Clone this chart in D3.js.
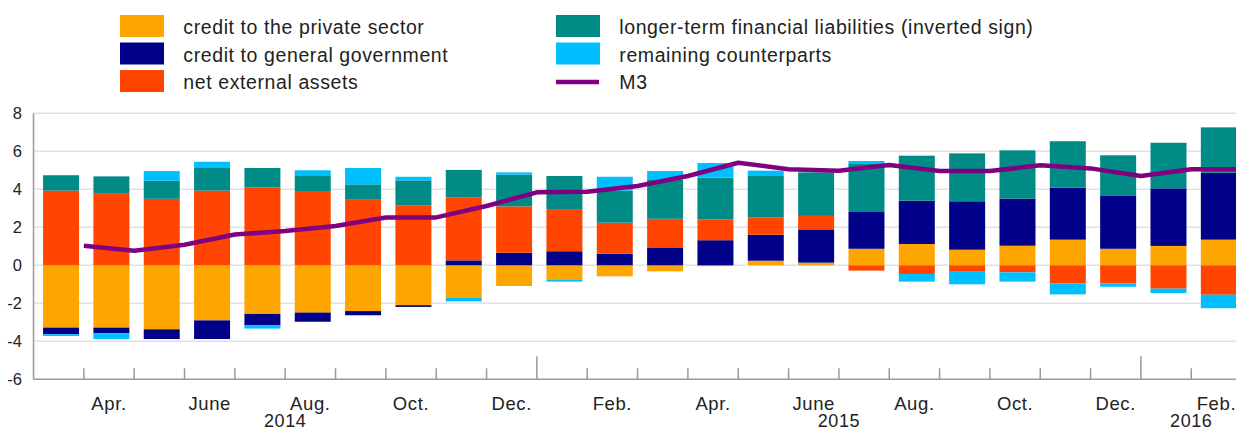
<!doctype html>
<html>
<head>
<meta charset="UTF-8">
<title>M3 counterparts</title>
<script src="https://d3js.org/d3.v7.min.js"></script>
<style>
  body { margin: 0; background: #fff; }
  text { font-family: "Liberation Sans", Arial, sans-serif; fill: #222; }
</style>
</head>
<body>
<svg id="chart" width="1236" height="431"></svg>
<script>
// months Mar 2014 - Feb 2016
var months = ["2014-03","2014-04","2014-05","2014-06","2014-07","2014-08","2014-09","2014-10","2014-11","2014-12",
              "2015-01","2015-02","2015-03","2015-04","2015-05","2015-06","2015-07","2015-08","2015-09","2015-10","2015-11","2015-12",
              "2016-01","2016-02"];
var monthLabels = ["","Apr.","","June","","Aug.","","Oct.","","Dec.","","Feb.","","Apr.","","June","","Aug.","","Oct.","","Dec.","","Feb."];
var years = ["2014","2015","2016"];
var yTicks = [-6,-4,-2,0,2,4,6,8];

var privateCredit = [-3.28,-3.28,-3.37,-2.90,-2.56,-2.49,-2.41,-2.10,-1.72,-1.09,-0.77,-0.58,-0.32,-0.04,0.24,0.14,0.87,1.12,0.82,1.03,1.35,0.87,1.02,1.35];
var govCredit     = [-0.35,-0.30,-0.51,-0.98,-0.60,-0.48,-0.22,-0.09,0.26,0.66,0.74,0.61,0.91,1.32,1.37,1.75,1.97,2.28,2.55,2.48,2.73,2.78,3.03,3.52];
var netExternal   = [3.93,3.80,3.50,3.93,4.10,3.91,3.45,3.16,3.32,2.44,2.22,1.63,1.54,1.10,0.92,0.71,-0.28,-0.46,-0.34,-0.37,-0.95,-0.95,-1.23,-1.55];
var longerTerm    = [0.81,0.88,0.95,1.19,1.02,0.83,0.81,1.31,1.44,1.67,1.74,1.69,2.04,2.19,2.17,2.29,2.53,2.37,2.52,2.54,2.45,2.14,2.40,2.39];
var remaining     = [-0.09,-0.30,0.51,0.33,-0.17,0.26,0.86,0.19,-0.18,0.12,-0.09,0.73,0.47,0.77,0.28,0.00,0.12,-0.40,-0.66,-0.49,-0.58,-0.18,-0.23,-0.71];
var m3            = [1.03,0.77,1.08,1.62,1.80,2.07,2.52,2.52,3.12,3.84,3.87,4.17,4.70,5.40,5.05,4.98,5.28,4.96,4.96,5.26,5.10,4.70,5.05,5.05];

var series = [
  {key: "private", name: "credit to the private sector", color: "#FFA500", values: privateCredit},
  {key: "gov", name: "credit to general government", color: "#000088", values: govCredit},
  {key: "ext", name: "net external assets", color: "#FF4500", values: netExternal},
  {key: "ltfl", name: "longer-term financial liabilities (inverted sign)", color: "#008B87", values: longerTerm},
  {key: "rem", name: "remaining counterparts", color: "#00BFFF", values: remaining}
];

var table = months.map(function (m, i) {
  var row = {month: m};
  series.forEach(function (s) { row[s.key] = s.values[i]; });
  return row;
});

var svg = d3.select("#chart");
var plotLeft = 33.5, plotRight = 1241.6, plotTop = 113.3, plotBottom = 379.3;

var x = d3.scaleBand().domain(months).range([plotLeft, plotRight]);
var y = d3.scaleLinear().domain([-6, 8]).range([plotBottom, plotTop]);
var bw = x.bandwidth();

// gridlines
svg.append("g").selectAll("line")
  .data(yTicks.filter(function (d) { return d > -6; }))
  .enter().append("line")
  .attr("x1", plotLeft).attr("x2", 1236)
  .attr("y1", function (d) { return y(d); })
  .attr("y2", function (d) { return y(d); })
  .attr("stroke", "#e2e2e2").attr("stroke-width", 1.5);

// y labels
svg.append("g").selectAll("text")
  .data(yTicks)
  .enter().append("text")
  .attr("x", 22).attr("y", function (d) { return y(d) + 6; })
  .attr("text-anchor", "end")
  .style("font-size", "16.5px")
  .text(function (d) { return d; });

// bars
var stack = d3.stack().keys(series.map(function (s) { return s.key; })).offset(d3.stackOffsetDiverging);
var layers = stack(table);

svg.append("g").selectAll("g")
  .data(layers)
  .enter().append("g")
  .attr("fill", function (d, i) { return series[i].color; })
  .selectAll("rect")
  .data(function (d) { return d; })
  .enter().append("rect")
  .attr("x", function (d) { return x(d.data.month) + bw * 0.19; })
  .attr("width", bw * 0.715)
  .attr("y", function (d) { return y(Math.max(d[0], d[1])); })
  .attr("height", function (d) { return Math.abs(y(d[0]) - y(d[1])); });

// M3 line, plotted at month end
var line = d3.line()
  .x(function (d, i) { return x(months[i]) + bw; })
  .y(function (d) { return y(d); });

svg.append("path")
  .datum(m3)
  .attr("d", line)
  .attr("fill", "none")
  .attr("stroke", "#800080")
  .attr("stroke-width", 4.5)
  .attr("stroke-linejoin", "round");

// axes
svg.append("line")
  .attr("x1", plotLeft).attr("x2", plotLeft).attr("y1", plotTop).attr("y2", plotBottom)
  .attr("stroke", "#999").attr("stroke-width", 1.5);
svg.append("line")
  .attr("x1", plotLeft).attr("x2", 1236).attr("y1", plotBottom).attr("y2", plotBottom)
  .attr("stroke", "#999").attr("stroke-width", 1.5);

svg.append("g").selectAll("line")
  .data(months.slice(1))
  .enter().append("line")
  .attr("x1", function (d) { return x(d); })
  .attr("x2", function (d) { return x(d); })
  .attr("y1", plotBottom)
  .attr("y2", function (d) { return d.slice(5) === "01" ? plotBottom - 23 : plotBottom - 11; })
  .attr("stroke", "#999").attr("stroke-width", 1.5);

// month labels
svg.append("g").selectAll("text")
  .data(months)
  .enter().append("text")
  .attr("x", function (d) { return x(d) + bw / 2; })
  .attr("y", 410)
  .attr("text-anchor", "middle")
  .style("font-size", "18.5px").style("letter-spacing", "0.6px")
  .text(function (d, i) { return monthLabels[i]; });

// year labels centred on the span of each year
svg.append("g").selectAll("text")
  .data(years)
  .enter().append("text")
  .attr("x", function (yr) {
    var ms = months.filter(function (m) { return m.slice(0, 4) === yr; });
    return (x(ms[0]) + x(ms[ms.length - 1]) + bw) / 2;
  })
  .attr("y", 427)
  .attr("text-anchor", "middle")
  .style("font-size", "18px").style("letter-spacing", "0.6px")
  .text(function (d) { return d; });

// legend
var legendItems = series.map(function (s) { return {name: s.name, color: s.color, type: "rect"}; });
legendItems.push({name: "M3", color: "#800080", type: "line"});

var lg = svg.append("g").selectAll("g")
  .data(legendItems)
  .enter().append("g")
  .attr("transform", function (d, i) {
    return "translate(" + (i < 3 ? 120 : 556) + "," + (15 + (i % 3) * 27.5) + ")";
  });

lg.filter(function (d) { return d.type === "rect"; })
  .append("rect")
  .attr("width", 44).attr("height", 22)
  .attr("fill", function (d) { return d.color; });

lg.filter(function (d) { return d.type === "line"; })
  .append("line")
  .attr("x1", 0).attr("x2", 43).attr("y1", 12).attr("y2", 12)
  .attr("stroke", function (d) { return d.color; })
  .attr("stroke-width", 4.5);

lg.append("text")
  .attr("x", 63.3)
  .attr("y", 19)
  .style("font-size", "19.5px").style("letter-spacing", "0.6px")
  .text(function (d) { return d.name; });
</script>
</body>
</html>
